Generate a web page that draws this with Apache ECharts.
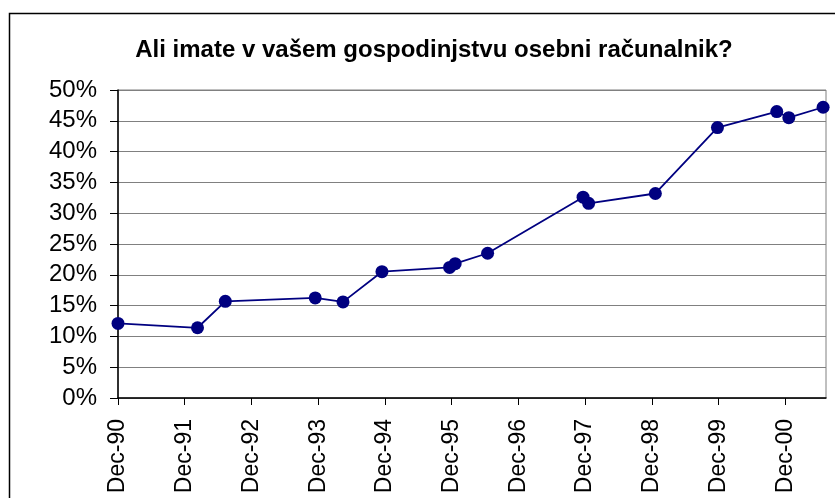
<!DOCTYPE html>
<html>
<head>
<meta charset="utf-8">
<script src="https://cdn.jsdelivr.net/npm/echarts@6/dist/echarts.min.js"></script>
<style>
  html, body { margin: 0; padding: 0; background: #fff; }
  #chart { width: 835px; height: 498px; }
</style>
</head>
<body>
<div id="chart"></div>
<script>
// survey dates (approximate) and share of households
const dates = ['1990-12-01', '1992-02-10', '1992-07-10', '1993-11-15', '1994-04-15', '1994-11-15',
    '1995-11-20', '1995-12-20', '1996-06-15', '1997-11-20', '1997-12-20', '1998-12-20',
    '1999-11-25', '2000-10-15', '2000-12-20', '2001-06-25']
const shares = [12.1, 11.4, 15.7, 16.25, 15.6, 20.5, 21.2, 21.8, 23.5, 32.6, 31.6, 33.2, 43.9, 46.5, 45.5, 47.2]
const tickYears = ['90', '91', '92', '93', '94', '95', '96', '97', '98', '99', '00']
const title = 'Ali imate v vašem gospodinjstvu osebni računalnik?'

// years elapsed since Dec 1990
function yearsSinceStart(s) {
    const p = s.split('-').map(Number)
    return ((p[0] - 1990) * 12 + (p[1] - 12) + (p[2] - 1) / 30) / 12
}

const seriesData = dates.map((d, i) => [yearsSinceStart(d), shares[i]])
const font = '"Liberation Sans", Arial, sans-serif'

let myChart = echarts.init(document.getElementById('chart'))
const option = {
    animation: false,
    textStyle: { fontFamily: font },
    title: {
        text: title,
        left: 429,
        top: 33,
        textAlign: 'center',
        textStyle: { fontFamily: font, fontSize: 24, fontWeight: 'bold', color: '#000' }
    },
    graphic: [{
        type: 'rect',
        shape: { x: 9.5, y: 13.5, width: 900, height: 600 },
        style: { fill: 'none', stroke: '#000', lineWidth: 1.5 },
        silent: true
    }],
    grid: {
        left: 118,
        top: 90,
        right: 9,
        bottom: 100,
        show: true,
        borderColor: '#808080',
        borderWidth: 1,
        containLabel: false,
        outerBoundsMode: 'none'
    },
    xAxis: {
        type: 'value',
        min: 0,
        max: 10.61,
        interval: 1,
        axisLine: { lineStyle: { color: '#000', width: 1.5 } },
        axisTick: { show: true, length: 7, lineStyle: { color: '#000' } },
        splitLine: { show: false },
        axisLabel: {
            rotate: 90,
            margin: 21,
            fontSize: 23,
            color: '#000',
            fontFamily: font,
            showMaxLabel: false,
            formatter: function(v) {
                const i = Math.round(v)
                return tickYears[i] !== undefined ? 'Dec-' + tickYears[i] : ''
            }
        }
    },
    yAxis: {
        type: 'value',
        min: 0,
        max: 50,
        interval: 5,
        axisLine: { show: true, lineStyle: { color: '#000', width: 1.5 } },
        axisTick: { show: true, length: 8, lineStyle: { color: '#000' } },
        splitLine: { show: true, lineStyle: { color: '#808080', width: 1 } },
        axisLabel: {
            margin: 21,
            fontSize: 24,
            color: '#000',
            fontFamily: font,
            formatter: '{value}%'
        }
    },
    series: [{
        type: 'line',
        data: seriesData,
        symbol: 'circle',
        symbolSize: 13,
        itemStyle: { color: '#000080' },
        lineStyle: { color: '#000080', width: 1.8 }
    }]
}
myChart.setOption(option)
</script>
</body>
</html>
